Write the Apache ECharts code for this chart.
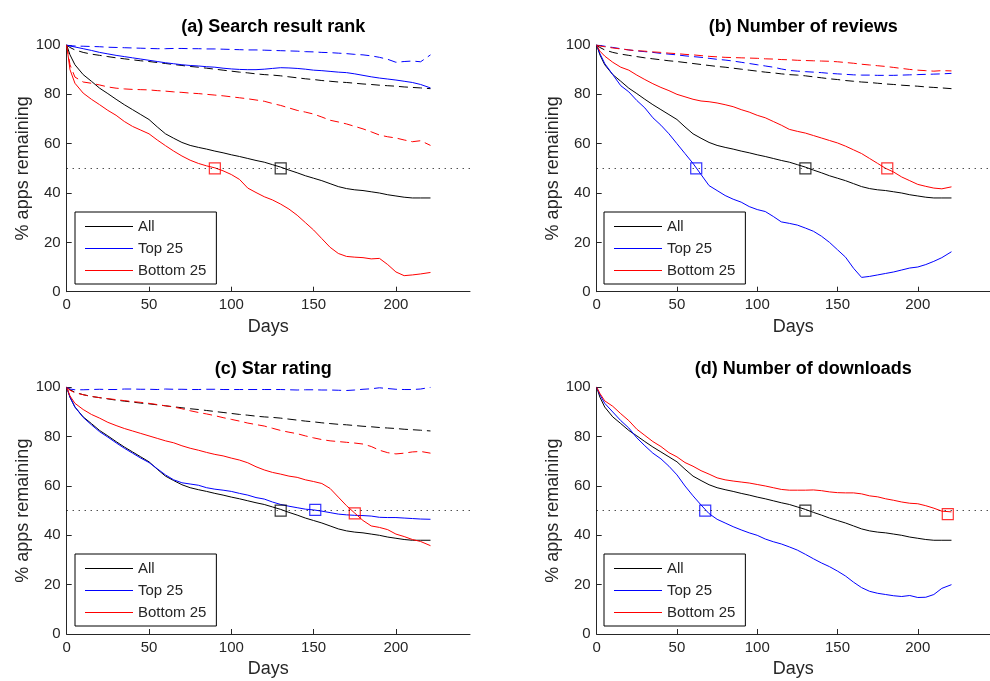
<!DOCTYPE html>
<html><head><meta charset="utf-8">
<script src="https://cdn.jsdelivr.net/npm/echarts@6/dist/echarts.min.js"></script>
<style>html,body{margin:0;padding:0;background:#fff}#c{width:990px;height:681px}</style>
</head><body><div id="c"></div>
<script>
// ---- data ----
const days = [0,2,5,10,15,20,25,30,35,40,45,50,55,60,65,70,75,80,85,90,95,100,105,110,115,120,125,130,135,140,145,150,155,160,165,170,175,180,185,190,195,200,205,210,215,221];

const allSolid  = [100,96,92,88,85.3,82.5,80.3,78,75.8,73.8,71.8,69.8,66.8,64,62.2,60.5,59.3,58.5,57.8,57,56.3,55.5,54.8,54,53.2,52.5,51.5,50.5,49.3,48.2,47,46,45,43.8,42.6,41.8,41.3,41,40.5,40,39.3,38.8,38.3,38,38,38];
const allDashed = [100,99,98,97,96.3,95.8,95.3,94.8,94.4,94,93.6,93.3,92.9,92.5,92.1,91.7,91.3,91,90.6,90.2,89.8,89.4,89,88.7,88.3,88,87.8,87.5,87.1,86.7,86.3,86,85.6,85.3,85,84.8,84.5,84.2,84,83.7,83.5,83.3,83,82.8,82.6,82.3];

// (a) Search result rank
const rankTopSolid  = [100,99.6,99.2,98.5,97.8,97,96.4,95.8,95.3,94.8,94.3,93.8,93.3,92.8,92.4,92,91.7,91.5,91.2,91,90.6,90.3,90.1,90,90,90.2,90.5,90.8,90.7,90.5,90.2,89.8,89.6,89.3,89,88.8,88.3,87.7,87.1,86.6,86.2,85.8,85.3,84.8,84,82.6];
const rankTopDashed = [100,99.7,99.6,99.5,99.4,99.3,99.1,99,98.9,98.8,98.7,98.6,98.5,98.5,98.6,98.6,98.5,98.5,98.4,98.4,98.3,98.2,98.1,98,98,97.9,97.8,97.7,97.6,97.5,97.3,97.2,97,96.9,96.7,96.5,96.2,96,95.6,95,94.2,93,93.3,93.5,93.2,96];
const rankBotSolid  = [100,90,84.5,80.5,78,75.8,73.5,71.5,69,67,65.5,64,61.5,59.2,57,55,53.3,52,51,50.2,49,47.5,45.5,42,40.2,38.5,37.2,35.5,33.5,31,28,25,21.5,18,15.5,14.3,14,13.8,13.3,13.5,11,8,6.5,6.8,7.2,7.8];
const rankBotDashed = [100,92,87,85,84.5,83.8,83,82.5,82.2,82,81.9,81.8,81.5,81.3,81,80.8,80.5,80.3,80,79.7,79.4,79,78.6,78.2,77.7,77.2,76.3,75.5,74.5,73.5,72.8,72,70.8,69.5,68.8,68,67,66,64.8,63.5,62.8,62.3,61.5,60.8,61.2,59.3];

// (b) Number of reviews
const revTopSolid  = [100,96.5,92.5,88,83.5,81,77.5,74.5,70.5,67.5,64,60,56,52,47.5,43,41,39,37.5,36.3,34.5,33.3,32.5,30.5,28.3,27.7,27,25.8,24.5,22.5,20,17,14,9.5,5.8,6.2,6.8,7.4,8,8.8,9.6,10,11,12.3,13.8,16.2];
const revTopDashed = [100,99.8,99.5,99,98.5,98,97.6,97.3,97,96.6,96.3,96,95.6,95.3,95,94.6,94.2,93.9,93.5,93,92.5,92,91.5,91,90.3,89.7,89.4,89.2,89,88.8,88.5,88.3,88.1,87.9,87.8,87.8,87.7,87.7,87.7,87.8,87.9,88,88.1,88.2,88.3,88.5];
const revBotSolid  = [100,97.5,95.5,93,91,89.8,87.8,86,84.3,82.8,81.5,80,79,78,77.3,77,76.5,75.8,75,73.8,72.8,71.5,70.5,69,67.5,65.8,65,64.3,63.3,62.3,61.3,60.3,59,57.5,56,54,52,50,48.5,46.5,45,43.5,42.7,42,41.7,42.5];
const revBotDashed = [100,99.6,99.3,98.8,98.4,98,97.7,97.5,97.2,97,96.7,96.5,96.2,96,95.7,95.4,95.2,95,94.9,94.8,94.7,94.6,94.4,94.3,94.1,94,93.8,93.7,93.6,93.5,93.4,93.2,92.9,92.6,92.2,91.9,91.6,91.3,90.9,90.5,90.1,89.8,89.6,89.4,89.6,89.5];

// (c) Star rating
const starTopSolid  = [100,96,92,87.8,84.8,82,79.8,77.5,75.3,73.3,71.3,69.5,67,64.5,62.5,61.3,60.8,60.3,59.3,58.7,58.3,57.8,57,56.3,55.3,54.7,53.5,52.5,51.8,51.2,50.6,50.3,49.8,49.2,48.6,48.3,48.1,48,47.8,47.3,47.2,47.2,47,46.8,46.6,46.5];
const starTopDashed = [100,99.3,99,99,99.1,99.2,99.1,99.1,99.3,99.3,99.2,99.2,99.1,99.3,99.2,99.2,99.1,99.1,99.2,99.2,99.1,99.1,99.1,99.1,99.1,99.1,99.1,99.1,99,98.9,99,99,98.9,98.9,98.8,98.7,98.9,99.2,99.4,99.8,99.5,99.2,99.1,99.1,99.3,100];
const starBotSolid  = [100,96.5,93.5,91,89,87.5,85.8,84.5,83.3,82.3,81.3,80.3,79.3,78.3,77.5,76.3,75.3,74.5,73.6,72.8,72.2,71.3,70.5,69.4,67.8,66.5,65.5,64.8,64,63.5,62.5,61.8,61,59,55.5,52,49,46,43.8,43.2,42.3,40.5,39.5,38.3,37.5,35.8];
const starBotDashed = [100,98.8,97.8,97,96.3,95.8,95.4,95,94.6,94.2,93.9,93.5,93,92.5,92,91.3,90.5,89.8,89.2,88.5,87.7,87,86.3,85.5,84.9,84.3,83.4,82.5,81.8,81.2,80.3,79.5,78.8,78.3,78,77.7,77.4,77,76,74.5,73.5,73,73.3,73.8,74,73.3];

// (d) Number of downloads
const dlTopSolid = [100,97,93.5,90,86.5,83.5,79.5,76.3,73.3,71,68,64.5,60,56,52.3,48.8,46.5,45,43.5,42.2,41,40,38.5,37.4,36.5,35.3,34,32.3,30.5,28.8,27.3,25.5,23.5,21,18.8,17.3,16.5,16,15.5,15.2,15.6,14.8,14.9,16,18.5,20];
const dlBotSolid = [100,97.5,94.5,92.3,89.3,86.5,83,80.5,78,76,73.5,71.8,69.5,68,66.2,64.8,63.3,62.5,62,61.6,61.2,60.6,60,59.3,58.6,58.3,58.3,58.3,58.4,58.1,57.6,57.3,57.2,57.2,56.8,56,55.6,54.8,54.2,53.5,53,52.8,52,51,49.8,49.5];

// 50%-crossing points [day, % remaining] for All / Top 25 / Bottom 25
const halfRank  = [[130, 50], null, [90, 50]];
const halfRev   = [[130, 50], [62, 50], [181, 50]];
const halfStar  = [[130, 50], [151, 50.3], [175, 48.9]];
const halfDl    = [[130, 50], [67.6, 50], [218.7, 48.6]];

const panelTitles = ['(a) Search result rank', '(b) Number of reviews', '(c) Star rating', '(d) Number of downloads'];
const seriesNames = ['All', 'Top 25', 'Bottom 25'];
const xTicks = [0, 50, 100, 150, 200];
const threshold = 50;

// ---- chart ----
const FONT = 'Liberation Sans, Arial, Helvetica, sans-serif';
const TXT = '#262626';
const colors = ['#000000', '#0000ff', '#ff0000'];
const DASH = [9, 5];

const panels = [
  { solid: [allSolid, rankTopSolid, rankBotSolid], dashed: [allDashed, rankTopDashed, rankBotDashed], half: halfRank },
  { solid: [allSolid, revTopSolid, revBotSolid], dashed: [allDashed, revTopDashed, revBotDashed], half: halfRev },
  { solid: [allSolid, starTopSolid, starBotSolid], dashed: [allDashed, starTopDashed, starBotDashed], half: halfStar },
  { solid: [allSolid, dlTopSolid, dlBotSolid], dashed: null, half: halfDl }
];

const gridBoxes = [
  { left: 66.7, top: 45, width: 403.3, height: 246.7 },
  { left: 596.7, top: 45, width: 402.3, height: 246.7 },
  { left: 66.7, top: 387.3, width: 403.3, height: 246.7 },
  { left: 596.7, top: 387.3, width: 402.3, height: 246.7 }
];
const legendPos = [[75, 212], [604, 212], [75, 554], [604, 554]];

const pair = ys => days.map((d, i) => [d, ys[i]]);

const grid = [], xAxis = [], yAxis = [], series = [], title = [], legend = [];
panels.forEach((p, i) => {
  const g = gridBoxes[i];
  grid.push({ left: g.left, top: g.top, width: g.width, height: g.height, containLabel: false });
  xAxis.push({
    type: 'value', gridIndex: i, min: 0, max: 245,
    name: 'Days', nameLocation: 'middle', nameGap: 26,
    nameTextStyle: { fontSize: 18, color: TXT, fontFamily: FONT },
    axisLine: { show: true, onZero: false, lineStyle: { color: TXT, width: 1 } },
    axisTick: { show: true, inside: true, length: 5, customValues: xTicks, lineStyle: { color: TXT } },
    axisLabel: { customValues: xTicks, fontSize: 15, color: TXT, margin: 6, fontFamily: FONT },
    splitLine: { show: false }
  });
  yAxis.push({
    type: 'value', gridIndex: i, min: 0, max: 100, interval: 20,
    name: '% apps remaining', nameLocation: 'middle', nameGap: 35,
    nameTextStyle: { fontSize: 18, color: TXT, fontFamily: FONT },
    axisLine: { show: true, lineStyle: { color: TXT, width: 1 } },
    axisTick: { show: true, inside: true, length: 5, lineStyle: { color: TXT } },
    axisLabel: { fontSize: 15, color: TXT, margin: 6, fontFamily: FONT },
    splitLine: { show: false }
  });
  title.push({
    text: panelTitles[i], left: g.left + 201.5, top: g.top - 32, textAlign: 'center',
    textStyle: { fontSize: 18, fontWeight: 'bold', color: '#000', fontFamily: FONT }
  });
  legend.push({
    data: seriesNames.map((n, k) => ({
      name: n,
      icon: 'rect',
      itemStyle: { color: colors[k], borderWidth: 0, opacity: 1 }
    })),
    orient: 'vertical', left: legendPos[i][0], top: legendPos[i][1],
    itemWidth: 48, itemHeight: 1, itemGap: 7, padding: [7, 10, 6, 10],
    borderColor: '#000', borderWidth: 1, borderRadius: 0, backgroundColor: '#fff',
    selectedMode: false,
    textStyle: { fontSize: 15, color: TXT, fontFamily: FONT }
  });
  if (p.dashed) {
    p.dashed.forEach((ys, k) => {
      series.push({
        type: 'line', name: seriesNames[k] + ' (dashed)', xAxisIndex: i, yAxisIndex: i,
        data: pair(ys), symbol: 'none', silent: true, z: 2,
        itemStyle: { color: colors[k] },
        lineStyle: { color: colors[k], width: 1, type: DASH }
      });
    });
  }
  p.solid.forEach((ys, k) => {
    const s = {
      type: 'line', name: seriesNames[k], xAxisIndex: i, yAxisIndex: i,
      data: pair(ys), symbol: 'none', silent: true, z: 3,
      itemStyle: { color: colors[k] },
      lineStyle: { color: colors[k], width: 1, type: 'solid' }
    };
    if (k === 0) {
      s.markLine = {
        silent: true, symbol: ['none', 'none'], label: { show: false },
        lineStyle: { color: '#000', width: 1, type: [1, 5] },
        data: [{ yAxis: threshold }]
      };
    }
    series.push(s);
  });
  p.half.forEach((pt, k) => {
    if (!pt) return;
    series.push({
      type: 'scatter', name: seriesNames[k] + ' 50%', xAxisIndex: i, yAxisIndex: i,
      data: [pt], symbol: 'rect', symbolSize: 11, silent: true, z: 4,
      itemStyle: { color: 'rgba(255,255,255,0)', borderColor: colors[k], borderWidth: 1.2 }
    });
  });
});

const chart = echarts.init(document.getElementById('c'), null, { renderer: 'canvas' });
chart.setOption({
  animation: false,
  backgroundColor: '#fff',
  textStyle: { fontFamily: FONT },
  title, legend, grid, xAxis, yAxis, series
});
</script>
</body></html>
